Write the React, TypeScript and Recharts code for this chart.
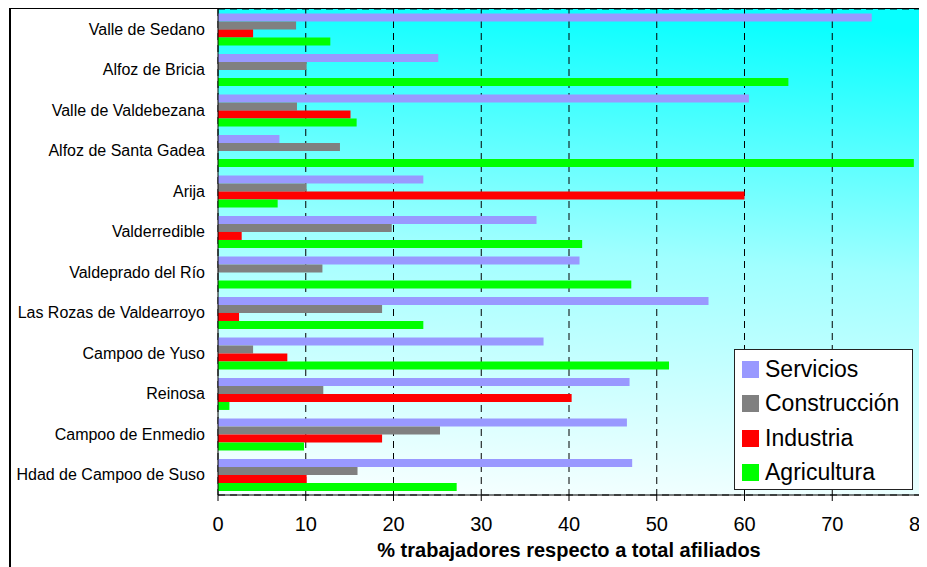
import { BarChart, Bar, XAxis, YAxis, CartesianGrid, Legend, ReferenceLine } from 'recharts';

const categories = [
  'Valle de Sedano',
  'Alfoz de Bricia',
  'Valle de Valdebezana',
  'Alfoz de Santa Gadea',
  'Arija',
  'Valderredible',
  'Valdeprado del Río',
  'Las Rozas de Valdearroyo',
  'Campoo de Yuso',
  'Reinosa',
  'Campoo de Enmedio',
  'Hdad de Campoo de Suso',
];

const seriesNames = ['Servicios', 'Construcción', 'Industria', 'Agricultura'];

const servicios = [74.5, 25.1, 60.5, 7.0, 23.4, 36.3, 41.2, 55.9, 37.1, 46.9, 46.6, 47.2];
const construccion = [8.9, 10.1, 9.0, 13.9, 10.1, 19.8, 11.9, 18.7, 4.0, 12.0, 25.3, 15.9];
const industria = [4.0, 0, 15.1, 0, 60.0, 2.7, 0, 2.4, 7.9, 40.3, 18.7, 10.1];
const agricultura = [12.8, 65.0, 15.8, 79.3, 6.8, 41.5, 47.1, 23.4, 51.4, 1.3, 9.8, 27.2];

const xTicks = [0, 10, 20, 30, 40, 50, 60, 70, 80];
const xMinorTicks = [0, 2, 4, 6, 8, 10, 12, 14, 16, 18, 20, 22, 24, 26, 28, 30, 32, 34, 36, 38, 40,
  42, 44, 46, 48, 50, 52, 54, 56, 58, 60, 62, 64, 66, 68, 70, 72, 74, 76, 78, 80];
// limites entre categorias (para la rejilla horizontal)
const boundaries = [0, 1, 2, 3, 4, 5, 6, 7, 8, 9, 10, 11, 12];

const data = categories.map((name, i) => ({
  name,
  servicios: servicios[i],
  construccion: construccion[i],
  industria: industria[i],
  agricultura: agricultura[i],
}));

const FONT = '"Liberation Sans", Arial, sans-serif';

const LegendBox = ({ payload }: any) => {
  // mismo orden que las series, no alfabetico
  const items = seriesNames
    .map((n) => (payload || []).find((p: any) => p.value === n))
    .filter(Boolean);
  return (
    <div style={{
      width: 177,
      height: 137,
      border: '1px solid #222',
      background: '#fff',
      boxSizing: 'content-box',
      paddingTop: 2,
      fontFamily: FONT,
    }}>
      {items.map((p: any) => (
        <div key={p.value} style={{ display: 'flex', alignItems: 'center', height: 34.5, paddingLeft: 7 }}>
          <span style={{ width: 17, height: 17, background: p.color, display: 'inline-block', marginRight: 6 }} />
          <span style={{ fontSize: 23, color: '#000' }}>{p.value}</span>
        </div>
      ))}
    </div>
  );
};

export default function App() {
  return (
    <div style={{ position: 'relative', width: 919, height: 559 }}>
      <div style={{
        position: 'absolute', left: 1, top: -1, width: 912, height: 570,
        borderTop: '2px solid #000', borderLeft: '2px solid #000',
      }} />
      <BarChart
        width={919}
        height={559}
        data={data}
        layout="vertical"
        barCategoryGap="11%"
        barGap={0}
        margin={{ top: 1, right: 7, bottom: 6, left: 0 }}
        style={{ position: 'absolute', left: 0, top: 0, fontFamily: FONT, overflow: 'visible' }}
      >
        <defs>
          <linearGradient id="bg" x1="0.55" y1="0" x2="0.45" y2="1">
            <stop offset="0%" stopColor="#08FFFF" />
            <stop offset="50%" stopColor="#A0FFFF" />
            <stop offset="100%" stopColor="#F4FFFF" />
          </linearGradient>
        </defs>
        <CartesianGrid
          yAxisId="grid"
          fill="url(#bg)"
          stroke="#000"
          strokeDasharray="7 5"
        />
        <XAxis
          xAxisId="minor"
          type="number"
          domain={[0, 80]}
          ticks={xMinorTicks}
          height={0}
          tick={false}
          tickSize={3}
          axisLine={false}
          tickLine={{ stroke: '#000' }}
        />
        <XAxis
          type="number"
          domain={[0, 80]}
          ticks={xTicks}
          interval={0}
          height={66}
          tickSize={6}
          tickMargin={16}
          axisLine={{ stroke: '#000' }}
          tickLine={{ stroke: '#000' }}
          tick={{ fill: '#000', fontSize: 20 }}
          label={{
            value: '% trabajadores respecto a total afiliados',
            position: 'insideBottom',
            offset: 4,
            fill: '#000',
            fontSize: 20,
            fontWeight: 'bold',
          }}
        />
        <YAxis
          yAxisId="grid"
          type="number"
          domain={[0, 12]}
          ticks={boundaries}
          width={0}
          tick={false}
          tickSize={5}
          axisLine={false}
          tickLine={{ stroke: '#000' }}
        />
        <YAxis
          type="category"
          dataKey="name"
          width={210}
          interval={0}
          tickLine={false}
          tickSize={0}
          tickMargin={13}
          axisLine={{ stroke: '#000' }}
          tick={{ fill: '#000', fontSize: 16 }}
        />
        <ReferenceLine x={80} stroke="#444" strokeWidth={1} />
        <Legend
          layout="vertical"
          align="center"
          verticalAlign="middle"
          content={<LegendBox />}
          wrapperStyle={{ position: 'absolute', left: 726, top: 341, width: 'auto' }}
        />
        <Bar dataKey="servicios" name="Servicios" fill="#9999FF" isAnimationActive={false} />
        <Bar dataKey="construccion" name="Construcción" fill="#808080" isAnimationActive={false} />
        <Bar dataKey="industria" name="Industria" fill="#FF0000" isAnimationActive={false} />
        <Bar dataKey="agricultura" name="Agricultura" fill="#00FF00" isAnimationActive={false} />
      </BarChart>
    </div>
  );
}
